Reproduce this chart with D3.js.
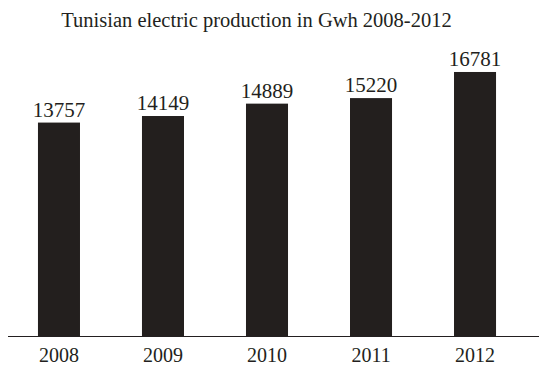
<!DOCTYPE html>
<html>
<head>
<meta charset="utf-8">
<script src="https://cdn.jsdelivr.net/npm/d3@7"></script>
<style>
  html, body { margin: 0; padding: 0; background: #fff; }
  svg { display: block; }
  text { font-family: "Liberation Serif", "Times New Roman", serif; fill: #231f20; }
</style>
</head>
<body>
<svg id="chart" width="539" height="374"></svg>
<script>
// Annual electricity production, GWh
const years = ["2008", "2009", "2010", "2011", "2012"];
const production = [13757, 14149, 14889, 15220, 16781];
const title = "Tunisian electric production in Gwh 2008-2012";

const W = 539, H = 374;
const baseY = 336;
const svg = d3.select("#chart");

const x = d3.scaleBand()
  .domain(years)
  .range([0, 534])
  .paddingInner(0.596)
  .paddingOuter(0.365);

const y = d3.scaleLinear()
  .domain([1000, 17000])
  .range([baseY, baseY - 16000 * 0.01673]);

const data = years.map((yr, i) => ({ year: yr, value: production[i] }));

// title
svg.append("text")
  .attr("x", 256.5)
  .attr("y", 27)
  .attr("text-anchor", "middle")
  .style("font-size", "20.5px")
  .text(title);

// bars
svg.append("g")
  .selectAll("rect")
  .data(data)
  .join("rect")
  .attr("x", d => x(d.year))
  .attr("y", d => y(d.value))
  .attr("width", x.bandwidth())
  .attr("height", d => baseY - y(d.value))
  .attr("fill", "#231f1e");

// value labels
svg.append("g")
  .selectAll("text")
  .data(data)
  .join("text")
  .attr("x", d => x(d.year) + x.bandwidth() / 2)
  .attr("y", d => y(d.value) - 6)
  .attr("text-anchor", "middle")
  .style("font-size", "21px")
  .text(d => d.value);

// category axis
const axis = svg.append("g")
  .attr("transform", `translate(0,${baseY})`)
  .call(d3.axisBottom(x).tickSize(0));
axis.select(".domain").remove();
axis.selectAll("text")
  .attr("y", 26)
  .attr("dy", 0)
  .style("font-size", "20px")
  .style("font-family", "'Liberation Serif', 'Times New Roman', serif")
  .attr("fill", "#231f20");

// baseline
svg.append("line")
  .attr("x1", 8).attr("x2", W)
  .attr("y1", baseY + 0.5).attr("y2", baseY + 0.5)
  .attr("stroke", "#231f20")
  .attr("stroke-width", 1);
</script>
</body>
</html>
